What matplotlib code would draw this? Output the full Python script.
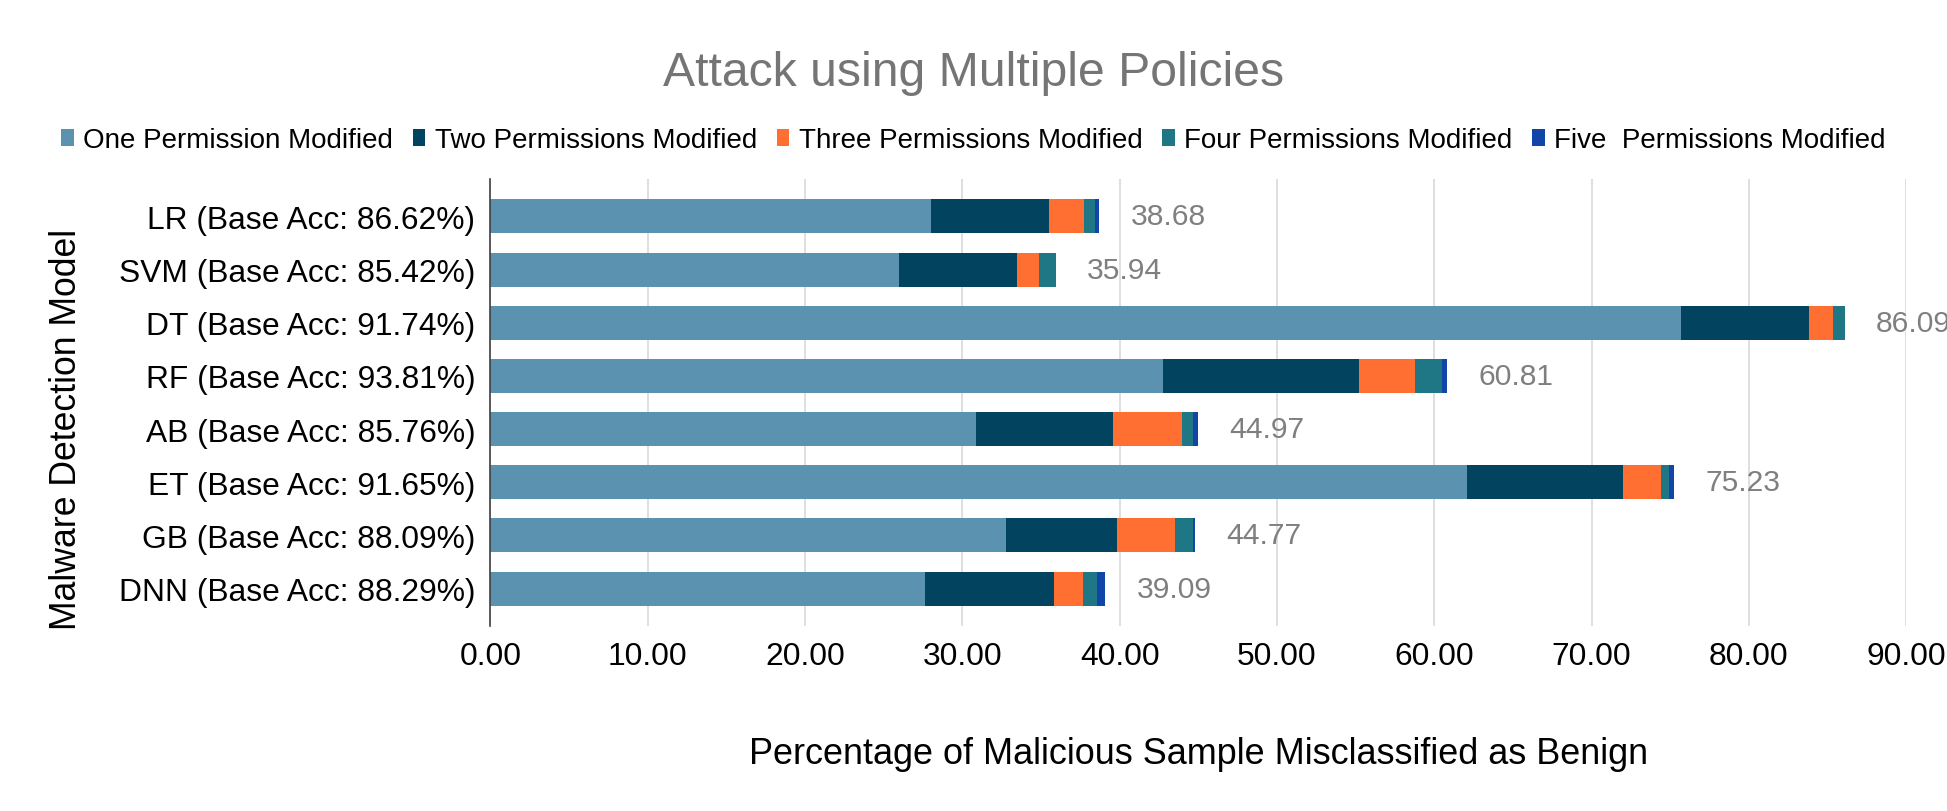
import matplotlib
matplotlib.use("Agg")
import matplotlib.pyplot as plt
from matplotlib.patches import Patch
import numpy as np

plt.rcParams['font.family'] = ['Liberation Sans', 'DejaVu Sans']

models = ["LR (Base Acc: 86.62%)", "SVM (Base Acc: 85.42%)", "DT (Base Acc: 91.74%)",
          "RF (Base Acc: 93.81%)", "AB (Base Acc: 85.76%)", "ET (Base Acc: 91.65%)",
          "GB (Base Acc: 88.09%)", "DNN (Base Acc: 88.29%)"]
series_names = ["One Permission Modified", "Two Permissions Modified",
                "Three Permissions Modified", "Four Permissions Modified",
                "Five  Permissions Modified"]
one = [28.02, 25.99, 75.67, 42.78, 30.90, 62.06, 32.75, 27.65]
two = [7.47, 7.47, 8.14, 12.41, 8.65, 9.97, 7.10, 8.15]
three = [2.23, 1.39, 1.52, 3.61, 4.44, 2.37, 3.67, 1.85]
four = [0.71, 1.09, 0.76, 1.72, 0.68, 0.51, 1.14, 0.90]
five = [0.25, 0.00, 0.00, 0.29, 0.30, 0.32, 0.11, 0.54]
totals = [38.68, 35.94, 86.09, 60.81, 44.97, 75.23, 44.77, 39.09]
colors = ["#5A92B0", "#02445F", "#FF6F31", "#1F7786", "#1146A8"]
xticks = [0, 10, 20, 30, 40, 50, 60, 70, 80, 90]

fig = plt.figure(figsize=(19.47, 8.12), dpi=100)
ax = fig.add_axes([0.2519, 0.228, 0.979 - 0.2519, 0.778 - 0.228])

y = np.arange(len(models))
left = np.zeros(len(models))
for vals, c in zip([one, two, three, four, five], colors):
    ax.barh(y, vals, left=left, height=0.64, color=c, zorder=3)
    left += np.array(vals)

for yi, t in zip(y, totals):
    ax.text(t + 2.0, yi, f"{t:.2f}", va='center', ha='left', fontsize=21.6,
            color='#7F7F7F', clip_on=False)

ax.set_xlim(0, 90)
ax.set_ylim(7.7, -0.7)
ax.set_yticks(y)
ax.set_yticklabels(models, fontsize=22.9)
ax.set_xticks(xticks)
ax.set_xticklabels([f"{v:.2f}" for v in xticks], fontsize=22.9)
ax.tick_params(axis='both', length=0)
ax.tick_params(axis='y', pad=11)
ax.tick_params(axis='x', pad=11)
ax.grid(axis='x', color='#D9D9D9', linewidth=1.2, zorder=0)
for s in ['top', 'right', 'bottom']:
    ax.spines[s].set_visible(False)
ax.spines['left'].set_color('#404040')
ax.spines['left'].set_linewidth(1.2)
ax.spines['left'].set_zorder(4)

ax.set_xlabel("Percentage of Malicious Sample Misclassified as Benign", fontsize=25.9, labelpad=47)
fig.text(0.034, 0.471, "Malware Detection Model", rotation=90, fontsize=25.7,
         va='center', ha='center')

fig.suptitle("Attack using Multiple Policies", fontsize=34.7, color='#757575', y=0.937)

handles = [Patch(facecolor=c, edgecolor='none') for c in colors]
fig.legend(handles, series_names, loc='center', bbox_to_anchor=(0.5, 0.826), ncol=5,
           frameon=False, fontsize=20.0, handlelength=0.45, handleheight=0.6,
           handletextpad=0.35, columnspacing=0.7)

fig.savefig("out.png", dpi=100)
